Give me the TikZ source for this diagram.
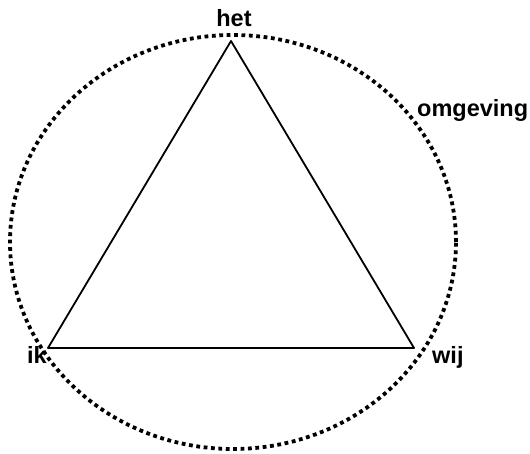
\documentclass[tikz,border=0pt]{standalone}
\usepackage{fontspec}
\setmainfont{Liberation Sans}
\begin{document}
\begin{tikzpicture}[line join=round,x=1pt,y=1pt]
			\tikzset{every node/.style={inner sep=0pt,font=\fontsize{23.5}{28}\selectfont\bfseries}}
			\useasboundingbox (0,0) rectangle (530,454);
			\draw[line width=3.8pt,dash pattern=on 3.8pt off 3.6pt] (233,212) ellipse [x radius=223,y radius=207];
			\coordinate (het) at (231,413);
			\coordinate (ik) at (48,106);
			\coordinate (wij) at (414,106);
			\draw[line width=1.8pt] (het)--(ik)--(wij)--cycle;
			\node[anchor=base] (lhet) at (234,427) {het};
			\node[anchor=base west] (lomgeving) at (417,337) {omgeving};
			\node[anchor=base west] (lik) at (27,90) {ik};
			\node[anchor=base west] (lwij) at (432,90) {wij};
		\end{tikzpicture}
\end{document}
